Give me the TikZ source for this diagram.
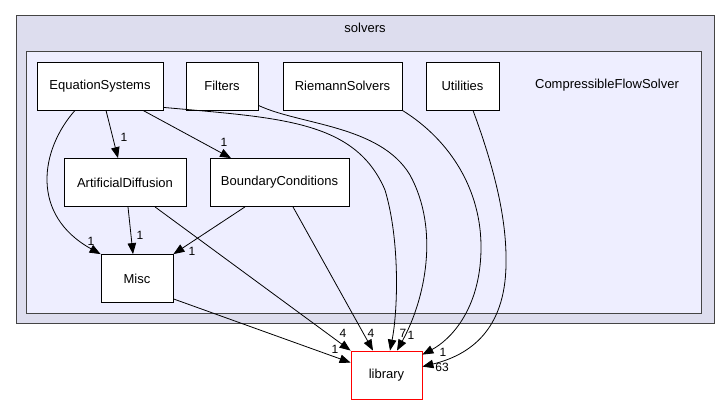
\documentclass[tikz,border=0pt]{standalone}
\usepackage{fontspec}
\setmainfont{Liberation Sans}
\usetikzlibrary{arrows.meta}

\definecolor{outerbg}{HTML}{DDDDEE}
\definecolor{innerbg}{HTML}{EEEEFF}
\definecolor{clusterline}{HTML}{444444}

\begin{document}
\begin{tikzpicture}[x=1pt,y=-1pt,
    dep/.style={draw,line width=0.8pt,-{Triangle[length=11pt,width=8.5pt]}},
    lbl/.style={inner sep=0pt,font=\fontsize{12}{12}\selectfont}]

      \useasboundingbox (0,0) rectangle (728,404);

      % the two directory clusters
      \draw[fill=outerbg,draw=clusterline,line width=1pt] (16,16) rectangle (714,323);
      \draw[fill=innerbg,draw=clusterline,line width=1pt] (26,52) rectangle (701,313);
      \node[font=\fontsize{13}{13}\selectfont] (solvers) at (365,28) {solvers};
      \node[font=\fontsize{13}{13}\selectfont] (cfs) at (607,85) {CompressibleFlowSolver};

      \begin{scope}[every node/.style={draw,fill=white,line width=0.8pt,inner sep=0pt,
          minimum height=48pt,font=\fontsize{13}{13}\selectfont}]
        \node[minimum width=126pt] (es) at (100,86)    {EquationSystems};
        \node[minimum width=72pt]  (fi) at (222,86)    {Filters};
        \node[minimum width=119pt] (ri) at (342.5,86)  {RiemannSolvers};
        \node[minimum width=73pt]  (ut) at (462.5,86)  {Utilities};
        \node[minimum width=122pt] (ad) at (125,182.5) {ArtificialDiffusion};
        \node[minimum width=139pt] (bc) at (279.5,182.5) {BoundaryConditions};
        \node[minimum width=72pt]  (misc) at (137,278.5) {Misc};
        \node[minimum width=71pt,draw=red] (lib) at (386.5,375) {library};
      \end{scope}

      \begin{scope}[every path/.style={dep}]
        \draw ([xshift=-25pt]es.south) .. controls (40,150) and (30,215) .. (misc.north west);
        \draw ([xshift=6pt]es.south) -- ([xshift=-7pt]ad.north);
        \draw ([xshift=43pt]es.south) -- ([xshift=-48.5pt]bc.north);
        \draw ([yshift=3pt]es.south east) .. controls (280,118) and (355,120) .. (385,190)
              .. controls (400,240) and (398,310) .. ([xshift=3.5pt]lib.north);
        \draw ([yshift=5pt]fi.south east) .. controls (300,125) and (380,125) .. (410,175)
              .. controls (440,230) and (425,300) .. ([xshift=10.5pt]lib.north);
        \draw (ri.south east) .. controls (450,140) and (482,190) .. (481,250)
              .. controls (480,310) and (450,340) .. ([yshift=-4pt]lib.north east);
        \draw ([xshift=10.5pt]ut.south) .. controls (495,170) and (507,220) .. (506,265)
              .. controls (505,330) and (470,355) .. ([yshift=-16pt]lib.north east);
        \draw ([xshift=3pt]ad.south) -- ([xshift=-4pt]misc.north);
        \draw ([xshift=30pt]ad.south) -- (lib.north west);
        \draw ([xshift=-34.5pt]bc.south) -- (misc.north east);
        \draw ([xshift=13.5pt]bc.south) -- ([xshift=-13.5pt]lib.north);
        \draw ([yshift=4pt]misc.south east) -- ([yshift=-12pt]lib.north west);
      \end{scope}

      % head labels
      \begin{scope}[every node/.style={lbl}]
        \node (l1)  at (91,241)  {1};
        \node (l2)  at (124,137) {1};
        \node (l3)  at (224,142) {1};
        \node (l4)  at (403,333) {7};
        \node (l5)  at (411,335) {1};
        \node (l6)  at (443,352) {1};
        \node (l7)  at (442,367) {63};
        \node (l8)  at (140,235) {1};
        \node (l9)  at (343,333) {4};
        \node (l10) at (192,251) {1};
        \node (l11) at (371,333) {4};
        \node (l12) at (335,349) {1};
      \end{scope}

    \end{tikzpicture}
\end{document}
